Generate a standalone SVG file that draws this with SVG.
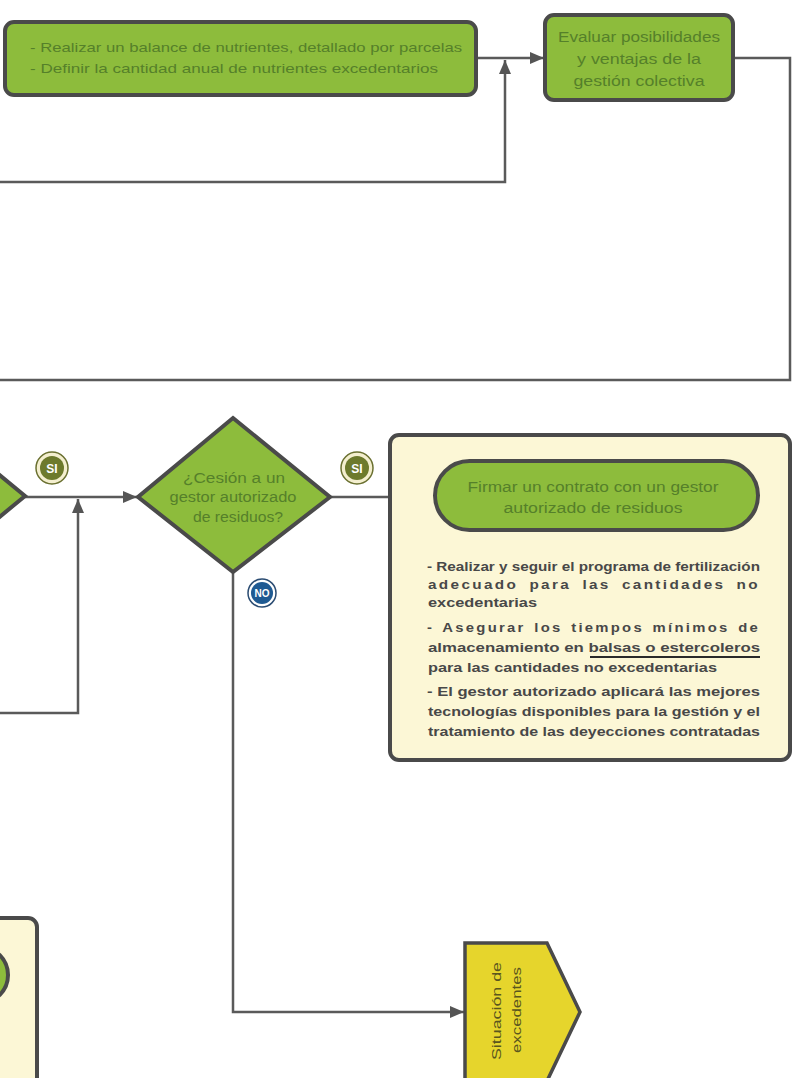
<svg xmlns="http://www.w3.org/2000/svg" width="792" height="1078" viewBox="0 0 792 1078">
<style>
.g{fill:#8dbc3c;stroke:#4a4a4a;stroke-width:4}
.cream{fill:#fcf7d6;stroke:#4a4a4a;stroke-width:4}
.gt{font-family:"Liberation Sans",Arial,sans-serif;font-size:13px;fill:#55802a}
.gm{font-family:"Liberation Sans",Arial,sans-serif;font-size:14px;fill:#55802a;text-anchor:middle}
.bt{font-family:"Liberation Sans",Arial,sans-serif;font-size:13px;font-weight:bold;fill:#484848}
.c{fill:none;stroke:#5a5a5a;stroke-width:2.5}
.bo{fill:#f4efcf;stroke:#6a7030;stroke-width:1.5}
.bi{fill:#6d7a2c}
.bl{font-family:"Liberation Sans",Arial,sans-serif;font-weight:bold;fill:#ffffff;text-anchor:middle}
.yt{font-family:"Liberation Sans",Arial,sans-serif;font-size:13px;fill:#5a561e;text-anchor:middle}
</style>
<defs>
<marker id="ah" markerUnits="userSpaceOnUse" markerWidth="14" markerHeight="12" refX="14" refY="6" orient="auto">
<path d="M0,0 L14,6 L0,12 z" fill="#555555"/>
</marker>
</defs>
<rect width="792" height="1078" fill="#ffffff"/>

<g id="connectors">
<path class="c" d="M0,182 H505 V60" marker-end="url(#ah)"/>
<path class="c" d="M477,58 H544" marker-end="url(#ah)"/>
<path class="c" d="M733,58 H790 V380 H0"/>
<path class="c" d="M25,497 H137" marker-end="url(#ah)"/>
<path class="c" d="M0,713 H78 V499" marker-end="url(#ah)"/>
<path class="c" d="M330,497 H434" marker-end="url(#ah)"/>
<path class="c" d="M233,572 V1012 H464" marker-end="url(#ah)"/>
</g>

<g id="balance">
<rect class="g" x="5" y="22" width="471" height="73" rx="9"/>
<text class="gt" x="30" y="52" textLength="432" lengthAdjust="spacingAndGlyphs">- Realizar un balance de nutrientes, detallado por parcelas</text>
<text class="gt" x="30" y="73" textLength="408" lengthAdjust="spacingAndGlyphs">- Definir la cantidad anual de nutrientes excedentarios</text>
</g>

<g id="evaluar">
<rect class="g" x="545" y="15" width="188" height="85" rx="9"/>
<text class="gm" x="639" y="42" textLength="162" lengthAdjust="spacingAndGlyphs">Evaluar posibilidades</text>
<text class="gm" x="639" y="64" textLength="124" lengthAdjust="spacingAndGlyphs">y ventajas de la</text>
<text class="gm" x="639" y="86" textLength="131" lengthAdjust="spacingAndGlyphs">gestión colectiva</text>
</g>

<g id="diamond-left">
<polygon class="g" points="-71,417 25,496 -71,575 -167,496"/>
</g>

<g id="si1">
<circle class="bo" cx="52" cy="468" r="16"/>
<circle class="bi" cx="52" cy="468" r="12"/>
<text class="bl" x="52" y="472.5" font-size="12">SI</text>
</g>

<g id="decision-gestor">
<polygon class="g" points="233,418 330,497 233,572 138,497"/>
<text class="gm" x="234" y="483" textLength="102" lengthAdjust="spacingAndGlyphs">¿Cesión a un</text>
<text class="gm" x="233" y="502" textLength="127" lengthAdjust="spacingAndGlyphs">gestor autorizado</text>
<text class="gm" x="238" y="522" textLength="90" lengthAdjust="spacingAndGlyphs">de residuos?</text>
</g>

<g id="si2">
<circle class="bo" cx="357" cy="468" r="16"/>
<circle class="bi" cx="357" cy="468" r="12"/>
<text class="bl" x="357" y="472.5" font-size="12">SI</text>
</g>

<g id="no">
<circle cx="262" cy="593" r="14" fill="#ffffff" stroke="#2b4c72" stroke-width="1.5"/>
<circle cx="262" cy="593" r="11" fill="#1f5a92"/>
<text class="bl" x="262" y="597" font-size="10">NO</text>
</g>

<g id="contrato-box">
<rect class="cream" x="390" y="435" width="400" height="325" rx="9"/>
<rect class="g" x="435" y="461" width="323" height="69" rx="34.5"/>
<text class="gm" x="593" y="492" textLength="251" lengthAdjust="spacingAndGlyphs">Firmar un contrato con un gestor</text>
<text class="gm" x="593" y="513" textLength="179" lengthAdjust="spacingAndGlyphs">autorizado de residuos</text>
<text class="bt" x="427" y="571" textLength="333" lengthAdjust="spacingAndGlyphs">- Realizar y seguir el programa de fertilización</text>
<text class="bt" x="428" y="589" letter-spacing="2" word-spacing="4" textLength="332" lengthAdjust="spacingAndGlyphs">adecuado para las cantidades no</text>
<text class="bt" x="428" y="607" textLength="109" lengthAdjust="spacingAndGlyphs">excedentarias</text>
<text class="bt" x="427" y="632" letter-spacing="2" word-spacing="2" textLength="333" lengthAdjust="spacingAndGlyphs">- Asegurar los tiempos mínimos de</text>
<text class="bt" x="428" y="652" textLength="332" lengthAdjust="spacingAndGlyphs">almacenamiento en balsas o estercoleros</text>
<line x1="590" y1="657" x2="760" y2="657" stroke="#2a2a2a" stroke-width="2"/>
<text class="bt" x="428" y="672" textLength="289" lengthAdjust="spacingAndGlyphs">para las cantidades no excedentarias</text>
<text class="bt" x="427" y="696" textLength="333" lengthAdjust="spacingAndGlyphs">- El gestor autorizado aplicará las mejores</text>
<text class="bt" x="428" y="716" textLength="332" lengthAdjust="spacingAndGlyphs">tecnologías disponibles para la gestión y el</text>
<text class="bt" x="428" y="736" textLength="332" lengthAdjust="spacingAndGlyphs">tratamiento de las deyecciones contratadas</text>
</g>

<g id="excedentes">
<polygon points="465,943 547,943 580,1012 547,1081 465,1081" fill="#e6d52c" stroke="#4a4a4a" stroke-width="3.5"/>
<text class="yt" transform="translate(501,1011) rotate(-90)" textLength="98" lengthAdjust="spacingAndGlyphs">Situación de</text>
<text class="yt" transform="translate(521,1010) rotate(-90)" textLength="86" lengthAdjust="spacingAndGlyphs">excedentes</text>
</g>

<g id="bottom-left-box">
<rect class="cream" x="-20" y="918" width="57" height="200" rx="9"/>
<rect class="g" x="-100" y="947" width="108" height="56" rx="28"/>
</g>
</svg>
